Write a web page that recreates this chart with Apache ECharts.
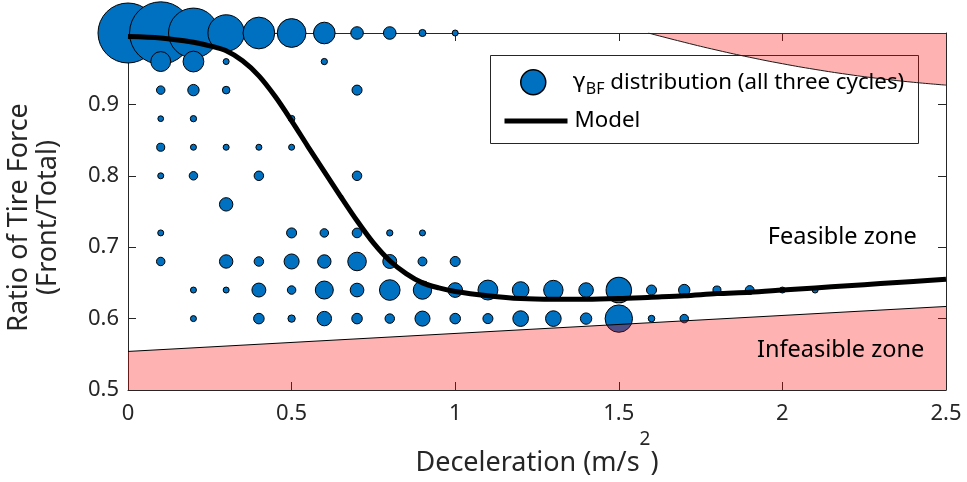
<!DOCTYPE html>
<html><head><meta charset="utf-8">
<script src="https://cdn.jsdelivr.net/npm/echarts@6/dist/echarts.min.js"></script>
<style>html,body{margin:0;padding:0;background:#fff;overflow:hidden}#c{width:967px;height:482px}</style>
</head><body><div id="c"></div>
<script>
// ---- data ----
const xTicks = [0, 0.5, 1, 1.5, 2, 2.5];
const xTickLabels = ['0', '0.5', '1', '1.5', '2', '2.5'];
const yTicks = [0.5, 0.6, 0.7, 0.8, 0.9, 1.0];
const yTickLabels = ['0.5', '0.6', '0.7', '0.8', '0.9', ''];

// [deceleration, ratio, relative frequency]
const gammaBF = [
  [0,1,100],[0.1,1,108],[0.2,1,69],[0.3,1,37],[0.4,1,28],[0.5,1,23],[0.6,1,13],[0.7,1,4.4],[0.8,1,4.4],[0.9,1,1.4],[1.0,1,1],
  [0.1,0.96,11],[0.2,0.96,12],[0.3,0.96,1],[0.6,0.96,1.1],
  [0.1,0.92,2],[0.2,0.92,3.6],[0.3,0.92,1.6],[0.7,0.92,2.8],
  [0.1,0.88,0.9],[0.2,0.88,1.1],[0.5,0.88,1.2],
  [0.1,0.84,1.8],[0.2,0.84,1],[0.3,0.84,1],[0.4,0.84,1],[0.5,0.84,1],
  [0.1,0.80,1],[0.2,0.80,2],[0.4,0.80,2.5],[0.7,0.80,2.5],
  [0.3,0.76,5],
  [0.1,0.72,1],[0.5,0.72,2.8],[0.6,0.72,2],[0.7,0.72,2.6],[0.8,0.72,1.1],[0.9,0.72,1],
  [0.1,0.68,2],[0.3,0.68,5],[0.4,0.68,2.5],[0.5,0.68,6.3],[0.6,0.68,5],[0.7,0.68,9.6],[0.8,0.68,5.4],[0.9,0.68,2.2],[1.0,0.68,2.8],
  [0.2,0.64,1],[0.3,0.64,1],[0.4,0.64,5.4],[0.5,0.64,2],[0.6,0.64,9],[0.7,0.64,5.2],[0.8,0.64,11.8],[0.9,0.64,9.4],[1.0,0.64,6],
  [1.1,0.64,11],[1.2,0.64,7.7],[1.3,0.64,10.5],[1.4,0.64,5.9],[1.5,0.64,18],[1.6,0.64,2.8],[1.7,0.64,3.6],[1.8,0.64,1.8],[1.9,0.64,2.2],[2.0,0.64,1],[2.1,0.64,1],
  [0.2,0.60,1],[0.4,0.60,3.1],[0.5,0.60,1.5],[0.6,0.60,5.8],[0.7,0.60,3.1],[0.8,0.60,2.5],[0.9,0.60,6.3],[1.0,0.60,3.1],
  [1.1,0.60,2.8],[1.2,0.60,6.8],[1.3,0.60,6.8],[1.4,0.60,3.6],[1.5,0.60,20.9],[1.6,0.60,1.2],[1.7,0.60,2]
];

const modelX = [0,0.1,0.2,0.25,0.3,0.35,0.4,0.45,0.5,0.55,0.6,0.65,0.7,0.75,0.8,0.85,0.9,0.95,1.0,
                1.1,1.2,1.3,1.4,1.5,1.6,1.7,1.8,1.9,2.0,2.1,2.2,2.3,2.4,2.5];
const modelY = [0.995,0.993,0.987,0.982,0.975,0.961,0.940,0.911,0.877,0.841,0.806,0.771,0.737,0.706,0.681,0.663,0.650,0.643,0.638,
                0.632,0.628,0.627,0.627,0.628,0.630,0.632,0.635,0.637,0.640,0.643,0.646,0.649,0.652,0.655];

const upperLimitX = [1.59,1.7,1.8,1.9,2.0,2.1,2.2,2.3,2.4,2.5];
const upperLimitY = [1.0,0.987,0.976,0.966,0.957,0.949,0.942,0.936,0.931,0.927];

const lowerLimitX = [0, 2.5];
const lowerLimitY = [0.554, 0.617];

const zoneNames = ['Feasible zone', 'Infeasible zone'];
const scatterName = 'γBF distribution (all three cycles)';
const modelName = 'Model';

// ---- chart ----
const FONT = 'Noto Sans';
const AX = '#262626';
const zip = (xs, ys) => xs.map((x, i) => [x, ys[i]]);
const tickLabel = (ticks, labels) => v => {
  const i = ticks.findIndex(t => Math.abs(t - v) < 1e-9);
  return i >= 0 ? labels[i] : '';
};
const sizeOf = w => 6 * Math.sqrt(w);

const chart = echarts.init(document.getElementById('c'));
const baseAxisLine = {show: true, onZero: false, lineStyle: {color: AX, width: 1}};
const baseTick = {show: true, inside: true, length: 8, lineStyle: {color: AX, width: 1}};

chart.setOption({
  animation: false,
  textStyle: {fontFamily: FONT},
  grid: {left: 128, right: 21, top: 33, bottom: 92, containLabel: false, outerBoundsMode: 'none'},
  xAxis: [{
    type: 'value', min: 0, max: 2.5, interval: 0.5, position: 'bottom',
    axisLine: baseAxisLine, axisTick: baseTick, splitLine: {show: false},
    axisLabel: {color: AX, fontSize: 22, margin: 13, fontFamily: FONT, formatter: tickLabel(xTicks, xTickLabels)},
    name: '{a|Deceleration (m/s}{sup|2}{a|)}', nameLocation: 'middle', nameGap: 40,
    nameTextStyle: {fontSize: 27, color: AX, fontFamily: FONT,
      rich: {
        a: {fontSize: 27, lineHeight: 66, color: AX, fontFamily: FONT},
        sup: {fontSize: 19, lineHeight: 2, verticalAlign: 'top', color: AX, fontFamily: FONT}
      }}
  }, {
    type: 'value', min: 0, max: 2.5, interval: 0.5, position: 'top',
    axisLine: baseAxisLine, axisTick: baseTick, splitLine: {show: false}, axisLabel: {show: false}
  }],
  yAxis: [{
    type: 'value', min: 0.5, max: 1.0, interval: 0.1, position: 'left',
    axisLine: baseAxisLine, axisTick: baseTick, splitLine: {show: false},
    axisLabel: {color: AX, fontSize: 22, margin: 9, fontFamily: FONT, formatter: tickLabel(yTicks, yTickLabels)},
    name: 'Ratio of Tire Force\n(Front/Total)', nameLocation: 'middle', nameRotate: 90, nameGap: 65,
    nameTextStyle: {fontSize: 27, color: AX, fontFamily: FONT, lineHeight: 29, padding: [0, 12, 0, 0]}
  }, {
    type: 'value', min: 0.5, max: 1.0, interval: 0.1, position: 'right',
    axisLine: baseAxisLine, axisTick: baseTick, splitLine: {show: false}, axisLabel: {show: false}
  }],
  legend: [{
    data: [{name: scatterName, icon: 'circle'}],
    left: 520, top: 69, padding: 0, itemWidth: 25, itemHeight: 25, selectedMode: false,
    itemStyle: {color: '#0070C0', borderColor: '#000', borderWidth: 1.5},
    formatter: () => '{g|γ}{s|BF}{t| distribution (all three cycles)}',
    textStyle: {rich: {
      g: {fontSize: 22, fontFamily: 'DejaVu Sans', color: '#000', lineHeight: 30, padding: [0, 0, 0, 22]},
      s: {fontSize: 16, fontFamily: FONT, color: '#000', lineHeight: 30, verticalAlign: 'bottom'},
      t: {fontSize: 22.3, fontFamily: FONT, color: '#000', lineHeight: 30}
    }}
  }, {
    data: [{name: modelName}],
    left: 502, top: 110, padding: 0, itemWidth: 63, itemHeight: 20, selectedMode: false,
    lineStyle: {width: 5, color: '#000'},
    itemStyle: {opacity: 0, color: '#000', borderWidth: 0},
    textStyle: {fontSize: 22.3, fontFamily: FONT, color: '#000', padding: [0, 0, 0, 2]}
  }],
  graphic: [{
    type: 'rect', z: 3,
    shape: {x: 490.5, y: 55.5, width: 428, height: 88},
    style: {fill: '#fff', stroke: '#262626', lineWidth: 1}
  }],
  series: [{
    type: 'line', name: 'lower', data: zip(lowerLimitX, lowerLimitY), symbol: 'none', silent: true,
    lineStyle: {color: '#000', width: 1},
    areaStyle: {color: 'rgba(255,0,0,0.3)', origin: 'start', opacity: 1}
  }, {
    type: 'line', name: 'upper', data: zip(upperLimitX, upperLimitY), symbol: 'none', silent: true, smooth: true,
    lineStyle: {color: '#1a1a1a', width: 1},
    areaStyle: {color: 'rgba(255,0,0,0.3)', origin: 'end', opacity: 1}
  }, {
    type: 'scatter', name: scatterName, data: gammaBF, clip: false,
    symbolSize: d => sizeOf(d[2]),
    itemStyle: {color: '#0070C0', borderColor: '#000', borderWidth: 1, opacity: 1}
  }, {
    type: 'line', name: modelName, data: zip(modelX, modelY), symbol: 'none', smooth: 0.3,
    itemStyle: {color: '#000'},
    lineStyle: {color: '#000', width: 5}
  }, {
    type: 'scatter', name: 'zones', silent: true, symbolSize: 0.01, z: 6,
    itemStyle: {color: '#fff'},
    data: [{name: zoneNames[0], value: [2.183, 0.714]}, {name: zoneNames[1], value: [2.178, 0.556]}],
    label: {show: true, position: 'inside', formatter: '{b}', fontSize: 23.5, fontFamily: FONT,
            color: '#000', opacity: 1, textBorderWidth: 0}
  }]
});
</script></body></html>
